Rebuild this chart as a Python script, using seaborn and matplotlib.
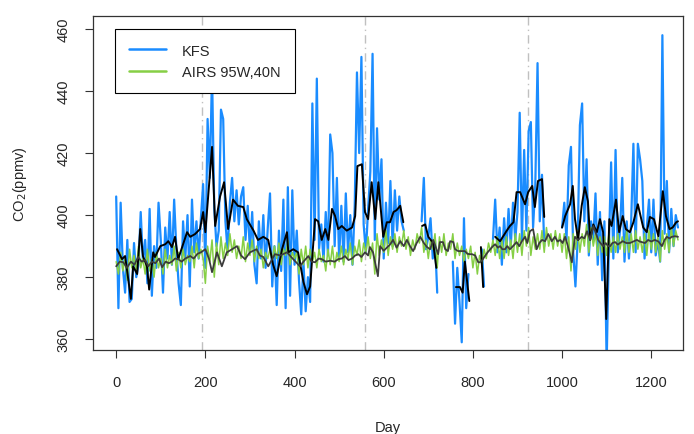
import numpy as np
import pandas as pd
import seaborn as sns
import matplotlib.pyplot as plt
from matplotlib.lines import Line2D

sns.set_style("ticks")
plt.rcParams["font.family"] = ["Liberation Sans", "DejaVu Sans"]

nan = np.nan

# KFS daily CO2, read every 5 days (NaN = no data)
kfs_day = np.arange(0, 1261, 5)
kfs = [
    406, 370, 404, 383, 375, 392, 372, 373, 391, 380,
    384, 401, 385, 392, 378, 402, 374, 390, 383, 404,
    392, 375, 396, 386, 401, 384, 405, 389, 378, 371,
    398, 386, 400, 377, 405, 388, 398, 386, 399, 410,
    383, 431, 412, 446, 402, 390, 395, 434, 431, 398,
    388, 404, 412, 398, 408, 397, 406, 409, 392, 403,
    388, 401, 384, 378, 398, 386, 400, 383, 396, 407,
    377, 390, 371, 395, 382, 405, 370, 409, 374, 408,
    384, 395, 379, 368, 385, 369, 380, 372, 436, 392,
    444, 389, 397, 385, 401, 387, 426, 420, 390, 412,
    386, 403, 385, 407, 388, 400, 384, 403, 446, 420,
    451, 397, 388, 402, 414, 452, 392, 428, 405, 418,
    386, 404, 391, 411, 390, 408, 395, 406, 398, 395,
    nan, nan, nan, nan, nan, nan, nan, 398, 412, 389,
    393, 399, 386, 392, 375, nan, nan, nan, nan, nan,
    nan, 385, 365, 383, 372, 359, 399, 370, 381, nan,
    nan, nan, nan, nan, 389, 377, nan, nan, nan, 392,
    405, 388, 396, 384, 399, 388, 402, 390, 404, 392,
    401, 433, 392, 421, 395, 427, 430, 396, 410, 449,
    398, 413, 390, nan, nan, nan, nan, nan, nan, nan,
    396, 404, 392, 416, 422, 388, 377, 392, 429, 436,
    398, 418, 387, 398, 392, 407, 384, 401, 379, 398,
    352, 390, 417, 386, 421, 388, 395, 412, 385, 398,
    386, 398, 423, 388, 423, 418, 411, 386, 396, 405,
    388, 405, 387, 392, 385, 458, 394, 411, 388, 402,
    390, 400, 396,
]

# AIRS 95W,40N daily CO2, read every 5 days
airs_day = np.arange(0, 1261, 5)
airs = [
    385, 381, 388, 382, 386, 379, 389, 383, 387, 382,
    390, 383, 386, 381, 389, 382, 386, 380, 388, 383,
    386, 381, 389, 383, 387, 384, 390, 382, 388, 383,
    389, 384, 387, 385, 390, 383, 391, 386, 389, 386,
    378, 390, 385, 392, 380, 391, 384, 393, 386, 391,
    387, 394, 388, 392, 386, 390, 386, 393, 385, 391,
    387, 392, 385, 390, 386, 389, 383, 388, 386, 389,
    385, 390, 386, 391, 384, 389, 387, 392, 384, 388,
    386, 388, 381, 389, 384, 390, 383, 389, 385, 388,
    383, 389, 385, 387, 382, 389, 384, 390, 383, 388,
    385, 390, 384, 389, 386, 391, 384, 390, 387, 392,
    385, 391, 388, 393, 386, 391, 381, 394, 387, 392,
    388, 395, 387, 393, 389, 394, 388, 393, 390, 395,
    389, 393, 387, 392, 389, 394, 391, 396, 388, 392,
    386, 392, 389, 394, 383, 393, 388, 394, 387, 391,
    389, 394, 386, 391, 387, 390, 385, 389, 386, 390,
    383, 388, 381, 387, 384, 389, 386, 391, 388, 392,
    387, 393, 386, 392, 386, 393, 387, 392, 386, 394,
    388, 394, 387, 395, 390, 396, 387, 393, 389, 394,
    389, 395, 388, 396, 390, 394, 389, 395, 390, 394,
    388, 394, 386, 393, 382, 394, 389, 395, 388, 394,
    390, 397, 388, 396, 390, 394, 387, 393, 388, 393,
    387, 394, 388, 393, 388, 394, 389, 393, 388, 395,
    388, 394, 388, 395, 389, 393, 388, 394, 387, 395,
    389, 394, 388, 393, 385, 395, 389, 394, 388, 396,
    390, 395, 392,
]

# weekly means of KFS (black)
kfs_week_day = [
    2, 13, 20, 27, 33, 38, 47, 54, 60, 69, 74, 83, 87, 99, 110, 117, 125, 132,
    139, 159, 166, 177, 188, 195, 200, 215, 222, 233, 242, 251, 262, 273, 285,
    293, 308, 318, 330, 341, 352, 360, 372, 383, 386, 397, 408, 420, 428, 435,
    446, 453, 461, 469, 476, 484, 491, 498, 506, 517, 529, 536, 541, 551, 558,
    565, 573, 581, 588, 599, 607, 614, 622, 629, 637, 644, 650,
    686, 693, 700, 711, 718, 724,
    762, 771, 777, 782, 792, 798,
    818, 823, 830,
    850, 861, 876, 883, 891, 898, 906, 917, 924, 933, 939, 946, 955, 960, 966,
    1000, 1007, 1018, 1024, 1029, 1036, 1044, 1051, 1058, 1063, 1070, 1078,
    1085, 1092, 1099, 1106, 1111, 1121, 1128, 1136, 1143, 1152, 1160, 1170,
    1182, 1190, 1197, 1206, 1216, 1226, 1233, 1241, 1248, 1256, 1260,
]
kfs_week = [
    389, 385.8, 386.8, 379.4, 373, 383.5, 381, 395.5, 386.8, 383.5, 376, 388,
    386.5, 390, 390.6, 391.6, 389.7, 393, 385.8, 394.5, 393, 393.9, 395.5, 401,
    394.5, 422, 396.5, 406, 410.6, 395.5, 405, 403, 402.6, 398.7, 395, 392, 393,
    392, 384, 380.3, 389, 394.5, 388, 389, 388, 378.4, 374.5, 377, 398.7, 398,
    392, 395.5, 392, 402, 399.7, 395.5, 396.5, 395, 396, 399.7, 415.8, 416.4,
    401, 398.7, 410.6, 398.7, 410.6, 393, 397.7, 397.7, 401, 401.6, 403, 397.7, nan,
    396.5, 397, 393, 391, 383, nan,
    376.8, 376.8, 375, 385, 372.3, nan,
    389.7, 376.8, nan,
    393, 391.6, 395, 396.5, 397.7, 407.4, 407.4, 403.5, 407.4, 409.4, 402.6,
    411, 411.6, 399.4, nan,
    396, 399.7, 403.5, 409.4, 398.7, 392, 403, 409, 404.5, 392, 397, 394.5,
    398.7, 394.5, 366.5, 398.7, 396.5, 405, 394.5, 399.7, 395.5, 394.5, 397.7,
    403.5, 396, 394.5, 399.4, 398.7, 393.2, 407.7, 399.7, 395.5, 396, 397.7, 398,
]

# weekly means of AIRS (dark grey)
airs_week_day = [
    0, 8, 16, 24, 33, 41, 49, 57, 65, 72, 80, 88, 96, 103, 111, 118, 125, 132,
    139, 147, 155, 166, 174, 182, 190, 200, 208, 215, 226, 237, 248, 260, 271,
    280, 289, 300, 315, 322, 330, 341, 356, 368, 383, 397, 412, 420, 431, 438,
    446, 454, 461, 470, 480, 490, 498, 506, 513, 521, 529, 536, 543, 550, 558,
    565, 569, 576, 587, 592, 600, 607, 614, 621, 629, 637, 645, 652, 659, 666,
    674, 682, 690, 697, 704, 711, 716, 722, 726, 733, 738, 744, 749, 756, 760,
    767, 771, 782, 788, 794, 798, 805, 812, 816, 821, 827, 833, 839, 845, 850,
    856, 861, 866, 872, 877, 883, 890, 898, 904, 910, 917, 922, 928, 935, 943,
    949, 955, 962, 969, 977, 984, 990, 996, 1001, 1007, 1013, 1022, 1029, 1036,
    1044, 1050, 1056, 1063, 1070, 1076, 1081, 1086, 1092, 1098, 1103, 1108,
    1113, 1119, 1125, 1130, 1136, 1144, 1152, 1160, 1168, 1174, 1179, 1186,
    1193, 1200, 1208, 1216, 1224, 1230, 1235, 1241, 1246, 1253, 1260,
]
airs_week = [
    383.5, 385, 384.8, 383, 385, 384, 386.5, 385, 385.5, 383.5, 385, 384.5, 386,
    383.2, 385, 384.5, 385, 386, 385.8, 385, 386, 386.8, 386, 387.5, 388, 389,
    386, 381.6, 388, 383.5, 388, 389, 390, 387, 385.8, 388, 389, 387, 386.5,
    383.5, 387.4, 387, 388, 385.8, 383.5, 385, 386.8, 385, 384.8, 386, 385.8,
    385, 385.3, 385, 385.8, 386, 386.8, 385.5, 386, 387, 387.4, 386.5, 388, 387,
    389.7, 388, 380.3, 390, 388.5, 389.5, 390.5, 392, 389.5, 391.6, 390, 392,
    390, 388.4, 391, 393, 391, 389.7, 389, 392, 390, 387.4, 391.3, 391.3, 389,
    388.4, 391.6, 391.3, 389, 388.4, 388.4, 388.4, 387.5, 387.4, 387.4, 387,
    384.8, 384.8, 385.5, 386.8, 388, 389, 390, 390.6, 389.5, 390, 389, 389, 390,
    389, 390, 391.3, 390, 391.6, 393, 391, 394.8, 395.5, 389, 391, 392, 391.6,
    393.9, 391.6, 393, 391.5, 392, 391, 393, 390, 384.8, 393, 392, 393, 392.5,
    394.8, 392, 396.5, 394, 392, 391, 390, 391, 390, 390, 391, 391.3, 390.5,
    391, 391.6, 391, 391, 391.5, 392, 391.5, 391.3, 391, 392, 391.5, 392, 391.5,
    390, 392, 393, 392.5, 393, 393.2, 393,
]

year_marks = [193, 558, 923]

blue = "#1a8cff"
green = "#86cf45"


def segments(day, val):
    df = pd.DataFrame({"day": day, "val": val})
    df["seg"] = df["val"].isna().cumsum()
    return df.dropna()


fig, ax = plt.subplots(figsize=(6.94, 4.35), dpi=100)
fig.subplots_adjust(left=0.134, right=0.984, bottom=0.193, top=0.961)

for xm in year_marks:
    ax.axvline(xm, color="#c0c0c0", lw=1.0, ls=(0, (6, 3, 1, 3)), zorder=0)

d = segments(kfs_day, kfs)
sns.lineplot(data=d, x="day", y="val", units="seg", estimator=None,
             color=blue, lw=1.6, ax=ax)
d = segments(airs_day, airs)
sns.lineplot(data=d, x="day", y="val", units="seg", estimator=None,
             color=green, lw=1.1, ax=ax)
d = segments(kfs_week_day, kfs_week)
sns.lineplot(data=d, x="day", y="val", units="seg", estimator=None,
             color="black", lw=1.4, ax=ax)
d = segments(airs_week_day, airs_week)
sns.lineplot(data=d, x="day", y="val", units="seg", estimator=None,
             color="#3c3c3c", lw=1.3, ax=ax)

ax.set_xlim(-52, 1271)
ax.set_ylim(356.5, 464.2)
ax.set_xticks(range(0, 1201, 200))
ax.set_yticks(range(360, 461, 20))
ax.tick_params(axis="both", labelsize=10.5, length=6, width=0.8, color="#333333")
ax.tick_params(axis="y", labelrotation=90, pad=10)
ax.tick_params(axis="x", pad=12)
for lab in ax.get_yticklabels():
    lab.set_va("center")
for sp in ax.spines.values():
    sp.set_visible(True)
    sp.set_color("#333333")
    sp.set_linewidth(0.9)

ax.set_xlabel("Day", fontsize=10.5, labelpad=22)
ax.set_ylabel(r"CO$_2$(ppmv)", fontsize=10.5, labelpad=20)

handles = [Line2D([], [], color=blue, lw=1.8), Line2D([], [], color=green, lw=1.8)]
leg = ax.legend(handles, ["KFS", "AIRS 95W,40N"], loc="upper left",
                bbox_to_anchor=(0.037, 0.961), borderaxespad=0, fontsize=10.5,
                handlelength=2.5, handletextpad=1.1, borderpad=1.0,
                labelspacing=0.5, fancybox=False, framealpha=1)
leg.get_frame().set_edgecolor("black")
leg.get_frame().set_linewidth(0.8)

fig.savefig("out.png", dpi=100)
